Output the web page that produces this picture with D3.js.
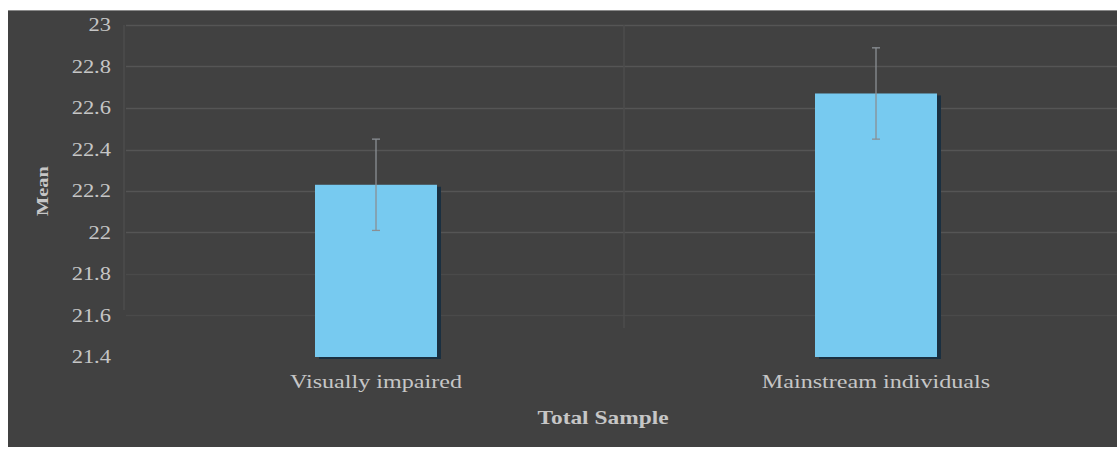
<!DOCTYPE html>
<html><head><meta charset="utf-8">
<script src="https://cdn.jsdelivr.net/npm/d3@7"></script>
<style>
html,body{margin:0;padding:0;background:#fff;}
svg{display:block;}
</style></head>
<body><svg id="c" width="1117" height="450"></svg>
<script>
const categories = ["Visually impaired", "Mainstream individuals"];
const means = [22.23, 22.67];
const errors = [0.22, 0.22];
const yTicks = [21.4, 21.6, 21.8, 22, 22.2, 22.4, 22.6, 22.8, 23];
const yTickLabels = ["21.4", "21.6", "21.8", "22", "22.2", "22.4", "22.6", "22.8", "23"];
const yTitle = "Mean";
const xTitle = "Total Sample";

(function () {
const svg = d3.select("#c");
const W = 1117, H = 450;
const pL = 126, pR = 1126, pT = 25, pB = 357;
const SX = 1.25; // horizontal stretch of the text in the reference
const font = "Liberation Serif";
const txtCol = "#c6c6c6";

// background panel
svg.append("rect").attr("x", 8).attr("y", 10).attr("width", W - 8).attr("height", H - 13).attr("fill", "#414141");
svg.append("line").attr("x1", 8).attr("x2", W).attr("y1", 10.5).attr("y2", 10.5).attr("stroke", "#8a8a8a").attr("stroke-width", 1);

const x = d3.scaleBand().domain(categories).range([pL, pR]).paddingInner(0).paddingOuter(0);
const y = d3.scaleLinear().domain([21.4, 23]).range([pB, pT]);

// horizontal gridlines
svg.append("g").selectAll("line").data(yTicks.filter(t => t > 21.4)).join("line")
  .attr("x1", pL).attr("x2", W)
  .attr("y1", d => Math.round(y(d)) + 0.5).attr("y2", d => Math.round(y(d)) + 0.5)
  .attr("stroke", d => d >= 22 ? "#555555" : "#4a4a4a").attr("stroke-width", 1.5);

// vertical gridlines at category boundaries
const bounds = [pL, x(categories[1])];
svg.append("g").selectAll("line").data(bounds).join("line")
  .attr("x1", d => d - 2).attr("x2", d => d - 2)
  .attr("y1", pT).attr("y2", (d, i) => i === 0 ? 310 : 328)
  .attr("stroke", "#4d4d4d").attr("stroke-width", 1.5);

const barW = 122;
const bw = x.bandwidth();
// bar shadows
svg.append("g").selectAll("rect").data(means).join("rect")
  .attr("x", (d, i) => x(categories[i]) + bw / 2 - barW / 2 + 4)
  .attr("y", d => y(d) + 2)
  .attr("width", barW).attr("height", d => pB - y(d))
  .attr("fill", "#1a2f40");
// bars
svg.append("g").selectAll("rect").data(means).join("rect")
  .attr("x", (d, i) => x(categories[i]) + bw / 2 - barW / 2)
  .attr("y", d => y(d))
  .attr("width", barW).attr("height", d => pB - y(d))
  .attr("fill", "#77caf0");

// error bars
const eg = svg.append("g").attr("stroke", "#8a8f94").attr("stroke-width", 1.3);
means.forEach((m, i) => {
  const cx = x(categories[i]) + bw / 2;
  eg.append("line").attr("x1", cx).attr("x2", cx).attr("y1", y(m + errors[i])).attr("y2", y(m - errors[i]));
  eg.append("line").attr("x1", cx - 4).attr("x2", cx + 4).attr("y1", y(m + errors[i])).attr("y2", y(m + errors[i]));
  eg.append("line").attr("x1", cx - 4).attr("x2", cx + 4).attr("y1", y(m - errors[i])).attr("y2", y(m - errors[i]));
});

// y axis tick labels
svg.append("g").selectAll("text").data(yTicks).join("text")
  .attr("transform", d => `translate(111,${y(d)}) scale(${SX},1)`)
  .attr("dy", "0.35em").attr("text-anchor", "end")
  .attr("font-family", font).attr("font-size", 18).attr("fill", txtCol)
  .text((d, i) => yTickLabels[i]);

// category labels
svg.append("g").selectAll("text").data(categories).join("text")
  .attr("transform", d => `translate(${x(d) + bw / 2},388) scale(1.34,1)`)
  .attr("text-anchor", "middle")
  .attr("font-family", font).attr("font-size", 18).attr("fill", txtCol)
  .text(d => d);

// axis titles
svg.append("text").attr("transform", `translate(603,424) scale(1.3,1)`).attr("text-anchor", "middle")
  .attr("font-family", font).attr("font-size", 18).attr("font-weight", "bold").attr("fill", txtCol)
  .text(xTitle);
svg.append("text").attr("transform", `translate(48,191) rotate(-90) scale(1.2,1)`).attr("text-anchor", "middle")
  .attr("font-family", font).attr("font-size", 17).attr("font-weight", "bold").attr("fill", txtCol)
  .text(yTitle);
})();
</script></body></html>
